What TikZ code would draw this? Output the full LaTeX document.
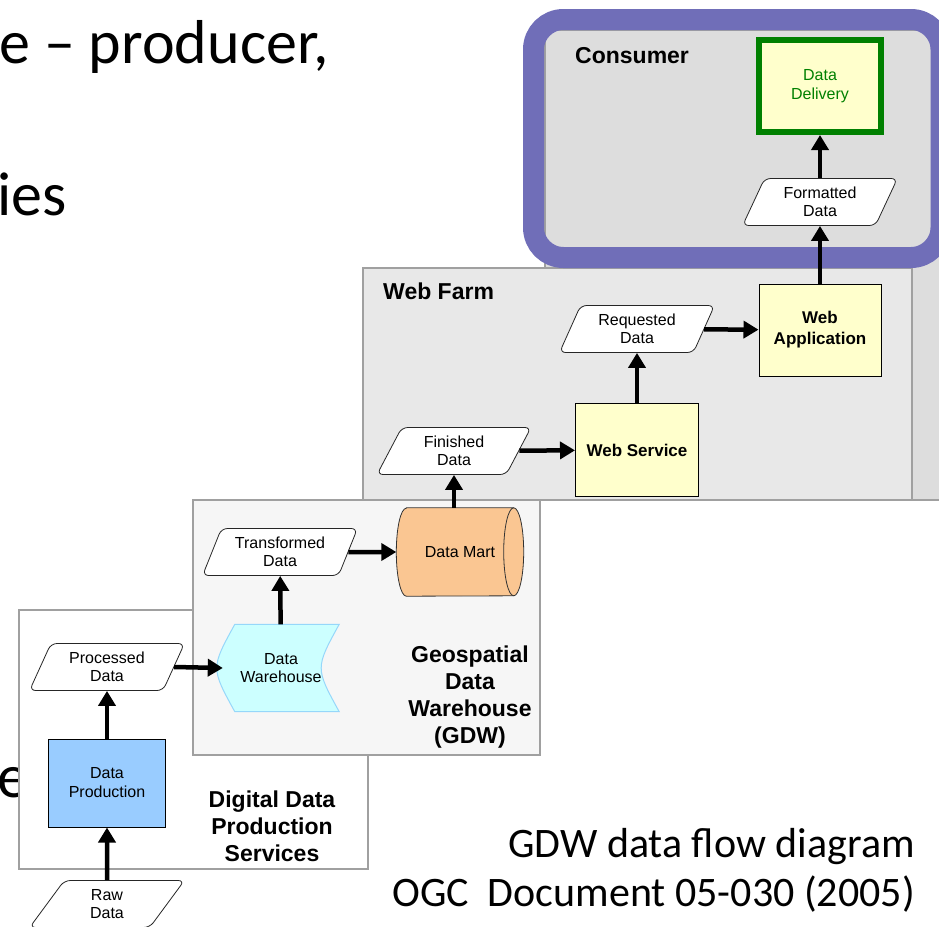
\documentclass[tikz,border=0pt]{standalone}
\usepackage{fontspec}
\setmainfont{Liberation Sans}
\newfontfamily\slidefont{Carlito}
\usetikzlibrary{arrows.meta, positioning, shapes.geometric}

\definecolor{panelgray}{RGB}{160,160,160}
\definecolor{consumerfill}{RGB}{221,221,221}
\definecolor{farmfill}{RGB}{232,232,232}
\definecolor{gdwfill}{RGB}{246,246,246}
\definecolor{boxyellow}{RGB}{255,255,204}
\definecolor{prodblue}{RGB}{153,204,255}
\definecolor{whcyan}{RGB}{204,255,255}
\definecolor{whborder}{RGB}{150,215,250}
\definecolor{martorange}{RGB}{250,198,146}
\definecolor{deliverygreen}{RGB}{0,128,0}
\definecolor{framepurple}{RGB}{112,110,184}

\begin{document}
\begin{tikzpicture}[x=1pt, y=-1pt,
    every node/.style={font=\fontsize{16}{18}\selectfont, align=center, inner sep=1pt},
    panel/.style={draw=panelgray, line width=1.2pt},
    datanode/.style={shape=trapezium, trapezium left angle=65, trapezium right angle=115,
        trapezium stretches=true, draw=black!85, fill=white, rounded corners=6pt,
        minimum width=155pt, minimum height=47pt, line width=0.8pt},
    procbox/.style={draw=black, line width=1pt, fill=boxyellow, minimum width=122pt,
        minimum height=92pt, font=\fontsize{17}{21}\selectfont\bfseries},
    title/.style={font=\fontsize{23}{27}\selectfont\bfseries},
    flow/.style={line width=4.5pt, -{Triangle[length=15pt,width=17pt]}},
    slide/.style={font=\slidefont\fontsize{62}{74}\selectfont, anchor=base west, inner sep=0pt},
    caption/.style={font=\slidefont\fontsize{42}{50}\selectfont, anchor=base east, inner sep=0pt}]
    \useasboundingbox (0,0) rectangle (939,926);
    \clip (0,0) rectangle (939,926);

    % slide text behind the figure
    \node[slide] (line1) at (-1,63) {e – producer,};
    \node[slide] (line2) at (-3,215) {ies};
    \node[slide] (line3) at (-3,797) {e};

    % panels
    \draw[panel, fill=white] (19,610) rectangle (368,869);
    \draw[panel, fill=consumerfill] (545,30) rectangle (955,500);
    \draw[panel, fill=farmfill] (363,268) rectangle (912,500);
    \draw[panel, fill=gdwfill] (193,500) rectangle (540,755);
    \draw[line width=21pt, framepurple, rounded corners=30pt] (533.5,19.5) rectangle (941,257.5);

    \node[title, anchor=base west] (consumer) at (574,63) {Consumer};
    \node[title, anchor=base west] (farm) at (382,299) {Web Farm};
    \node[title] (gdwtitle) at (470,697) {Geospatial\\Data\\Warehouse\\(GDW)};
    \node[title] (ddpstitle) at (272,826) {Digital Data\\Production\\Services};

    % consumer
    \node[procbox, draw=deliverygreen, line width=6pt, font=\fontsize{16}{19}\selectfont,
        text=deliverygreen] (dd) at (820,86) {Data\\Delivery};
    \node[datanode] (fd) at (820,202) {Formatted\\Data};

    % web farm
    \node[procbox] (wa) at (820,330) {Web\\Application};
    \node[datanode] (rd) at (637,329) {Requested\\Data};
    \node[procbox, minimum width=123pt, minimum height=93pt] (ws) at (637,450) {Web Service};
    \node[datanode] (fin) at (454,451) {Finished\\Data};

    % geospatial data warehouse
    \node[minimum width=127pt, minimum height=88pt] (dm) at (460,552) {};
    \draw[draw=black!80, fill=martorange, line width=0.8pt]
        ([xshift=10pt]dm.north west) -- ([xshift=-10pt]dm.north east)
        arc[start angle=90, end angle=-90, x radius=10pt, y radius=44pt]
        -- ([xshift=10pt]dm.south west)
        arc[start angle=270, end angle=90, x radius=10pt, y radius=44pt] -- cycle;
    \draw[draw=black!80, line width=0.8pt] ([xshift=-10pt]dm.north east)
        arc[start angle=90, end angle=270, x radius=10pt, y radius=44pt];
    \node at (dm) {Data Mart};
    \node[datanode] (td) at (280,552) {Transformed\\Data};
    \node[minimum width=116pt, minimum height=87pt] (dw) at (281,668) {};
    \draw[draw=whborder, fill=whcyan, line width=1pt]
        ([xshift=12pt]dw.north west) -- (dw.north east)
        .. controls ([xshift=-24pt]dw.east) .. (dw.south east)
        -- ([xshift=12pt]dw.south west)
        .. controls ([xshift=-12pt]dw.west) .. cycle;
    \node at (dw) {Data\\Warehouse};

    % digital data production
    \node[datanode] (pd) at (107,667) {Processed\\Data};
    \node[procbox, fill=prodblue, minimum width=117pt, minimum height=88pt,
        font=\fontsize{16}{19}\selectfont] (dp) at (107,783) {Data\\Production};
    \node[datanode] (raw) at (107,904) {Raw\\Data};

    % flows
    \draw[flow] (raw) -- (dp);
    \draw[flow] (dp) -- (pd);
    \draw[flow] (pd.east) -- (dw.west);
    \draw[flow] (dw) -- (td);
    \draw[flow] (td) -- (dm);
    \draw[flow] (dm.north -| fin.south) -- (fin.south);
    \draw[flow] (fin) -- (ws);
    \draw[flow] (ws) -- (rd);
    \draw[flow] (rd) -- (wa);
    \draw[flow] (wa) -- (fd);
    \draw[flow] (fd) -- (dd);

    \node[caption] (cap1) at (915,857) {GDW data flow diagram};
    \node[caption] (cap2) at (915,906) {OGC\ \ Document 05-030 (2005)};
\end{tikzpicture}
\end{document}
